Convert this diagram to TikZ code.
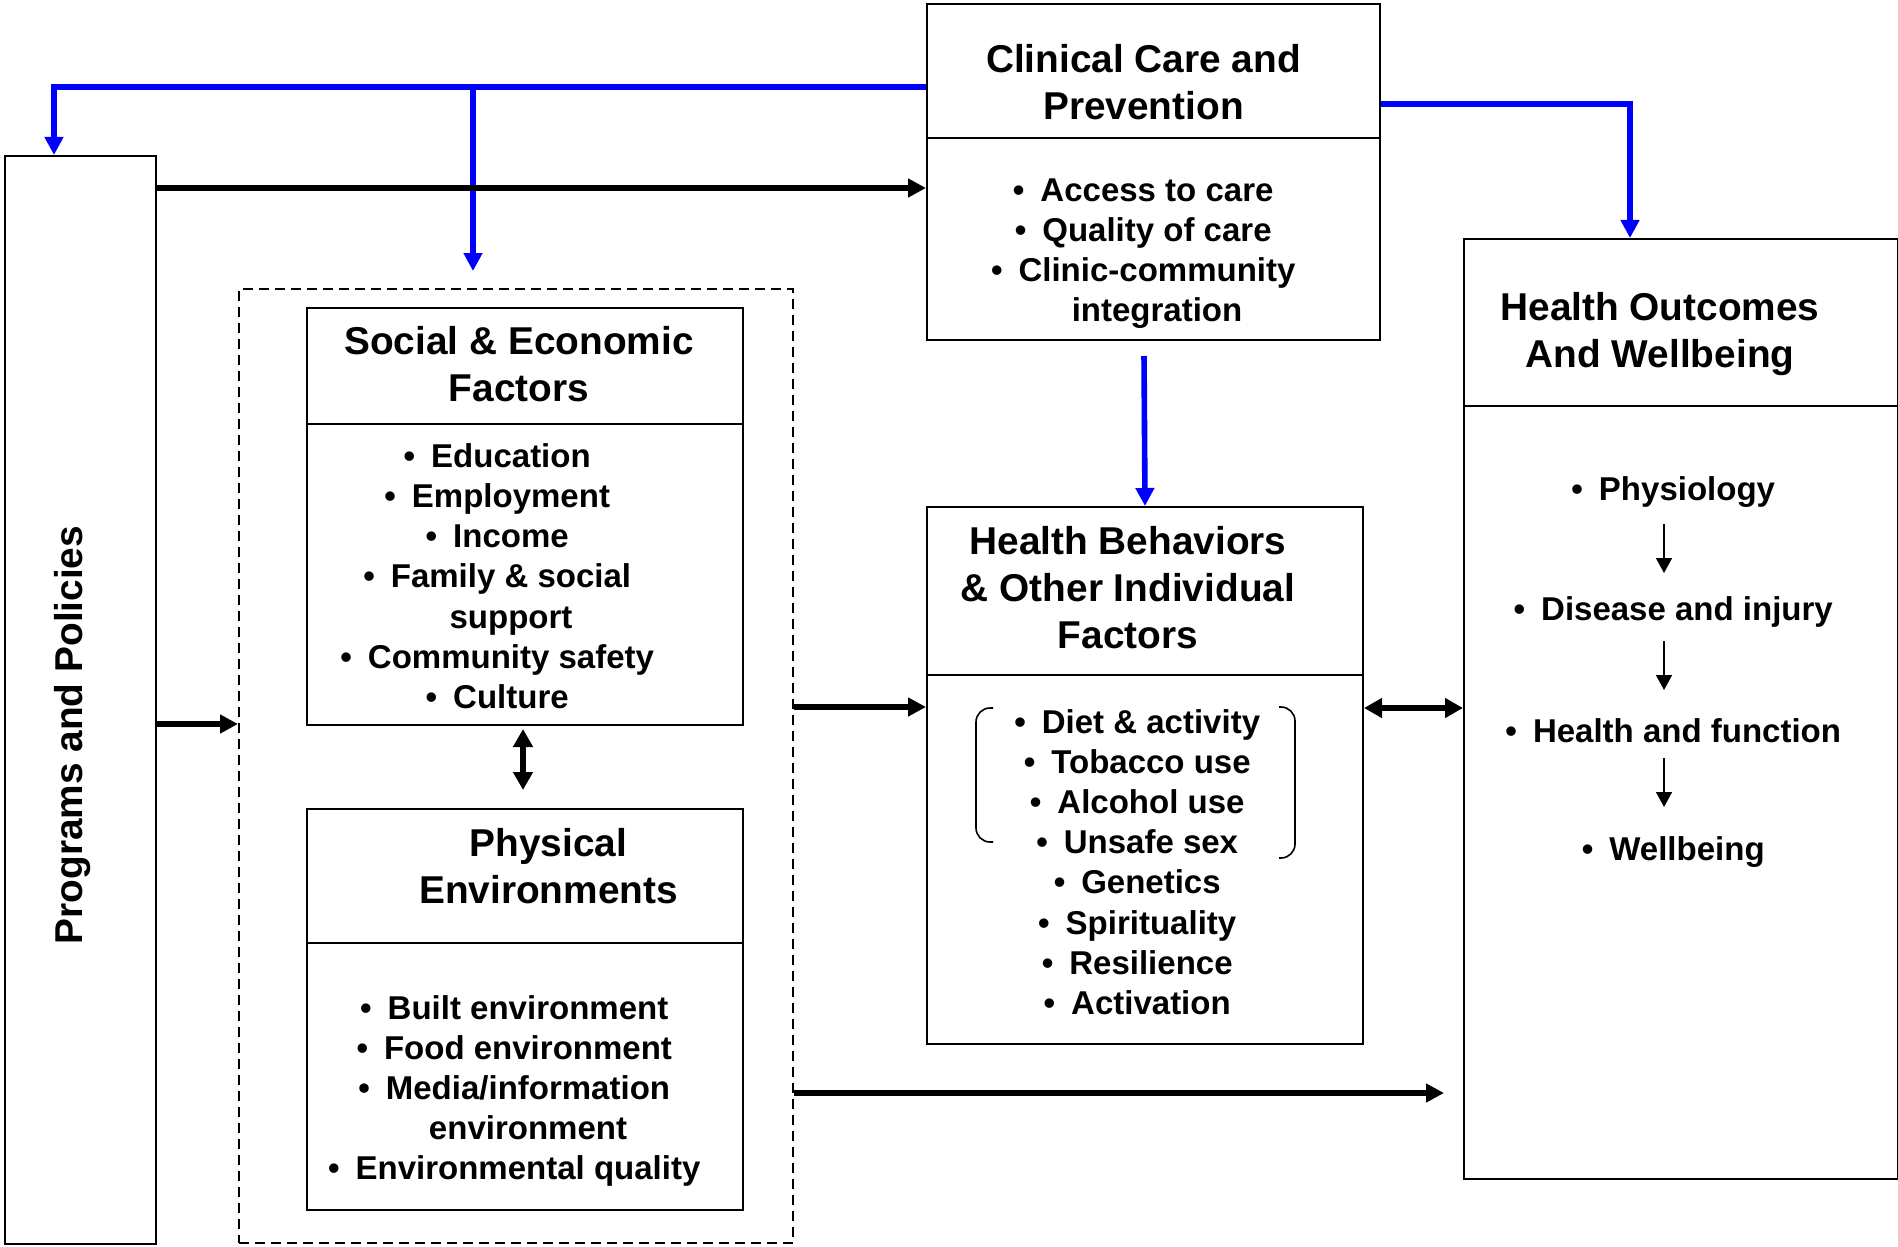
\documentclass[tikz,border=0pt]{standalone}
\usepackage{fontspec}
\setmainfont{Liberation Sans}
\usetikzlibrary{arrows.meta}
\newcommand\itemdot{\llap{\textbullet\hspace{8pt}}}
\begin{document}
\begin{tikzpicture}[x=0.5pt,y=-0.5pt,
  box/.style={draw, line width=1pt, inner sep=0pt, anchor=north west},
  divider/.style={line width=1.4pt},
  ttl/.style={font=\bfseries\fontsize{19.4}{23.5}\selectfont, align=center, inner sep=0pt},
  body/.style={font=\bfseries\fontsize{16.5}{20.1}\selectfont, align=center, inner sep=0pt},
  bluearr/.style={draw=blue, line width=2.8pt, -{Triangle[length=9pt,width=9pt]}},
  blkarr/.style={line width=2.7pt, -{Triangle[length=9pt,width=9pt]}},
  dblarr/.style={line width=2.8pt, {Triangle[length=9pt,width=9.5pt]}-{Triangle[length=9pt,width=9.5pt]}},
  smallarr/.style={line width=0.8pt, -{Triangle[length=7.5pt,width=8pt]}},
  brk/.style={line width=0.8pt, rounded corners=7pt},
]
\useasboundingbox (0,0) rectangle (1898,1246);

% boxes
\node[box, dash pattern=on 5pt off 3pt, line width=0.9pt, minimum width=277pt, minimum height=477pt] (dash) at (238,288) {};
\node[box, minimum width=75.5pt, minimum height=544pt] (prog) at (4,155) {};
\node[box, minimum width=218pt, minimum height=208.5pt] (soc) at (306,307) {};
\node[box, minimum width=218pt, minimum height=200.5pt] (phys) at (306,808) {};
\node[box, minimum width=226.5pt, minimum height=168pt] (clin) at (926,3) {};
\node[box, minimum width=218pt, minimum height=268.5pt] (hb) at (926,506) {};
\node[box, minimum width=217pt, minimum height=470pt] (ho) at (1463,238) {};

% dividers
\draw[divider] (clin.west |- 0,138) -- (clin.east |- 0,138);
\draw[divider] (soc.west |- 0,424) -- (soc.east |- 0,424);
\draw[divider] (phys.west |- 0,943) -- (phys.east |- 0,943);
\draw[divider] (hb.west |- 0,675) -- (hb.east |- 0,675);
\draw[divider] (ho.west |- 0,406) -- (ho.east |- 0,406);

% texts
\node[ttl, rotate=90] (progt) at (73,735) {Programs and Policies};
\node[ttl] (clint) at (1143.5,82.5) {Clinical Care and\\Prevention};
\node[body] (clinb) at (1157,253.5) {\itemdot Access to care\\\itemdot Quality of care\\\itemdot Clinic-community\\integration};
\node[ttl] (soct) at (519,364.5) {Social \& Economic\\Factors};
\node[body] (socb) at (511,576) {\itemdot Education\\\itemdot Employment\\\itemdot Income\\\itemdot Family \& social\\support\\\itemdot Community safety\\\itemdot Culture};
\node[ttl] (physt) at (548.5,866.5) {Physical\\Environments};
\node[body] (physb) at (528,1091) {\itemdot Built environment\\\itemdot Food environment\\\itemdot Media/information\\environment\\\itemdot Environmental quality};
\node[ttl] (hbt) at (1128,588) {Health Behaviors\\\& Other Individual\\Factors};
\node[body] (hbb) at (1151,862) {\itemdot Diet \& activity\\\itemdot Tobacco use\\\itemdot Alcohol use\\\itemdot Unsafe sex\\\itemdot Genetics\\\itemdot Spirituality\\\itemdot Resilience\\\itemdot Activation};
\node[ttl] (hot) at (1660,334.5) {Health Outcomes\\And Wellbeing};
\node[body] (ho1) at (1687,492) {\itemdot Physiology};
\node[body] (ho2) at (1687,612) {\itemdot Disease and injury};
\node[body] (ho3) at (1687,730.5) {\itemdot Health and function};
\node[body] (ho4) at (1687,852.5) {\itemdot Wellbeing};

% brackets
\draw[brk] (993,708) -- (976,708) -- (976,842) -- (993,842);
\draw[brk] (1279,707) -- (1295,707) -- (1295,858) -- (1279,858);

% coordinates
\coordinate (bl) at (54,87);
\coordinate (br) at (473,87);
\coordinate (brend) at (473,271);
\coordinate (b3) at (1630,104);
\coordinate (b4s) at (1144,356);
\coordinate (a1s) at (1664,524); \coordinate (a1e) at (1664,573);
\coordinate (a2s) at (1664,641); \coordinate (a2e) at (1664,690);
\coordinate (a3s) at (1664,758); \coordinate (a3e) at (1664,807);

% blue connectors
\draw[bluearr] (clin.west |- bl) -| (prog.north -| bl);
\draw[bluearr] (br) -- (brend);
\draw[bluearr] (clin.east |- b3) -| (ho.north -| b3);
\draw[bluearr] (b4s) -- (hb.north);

% black connectors
\draw[blkarr] (prog.east |- 0,188) -- (clin.west |- 0,188);
\draw[blkarr] (prog.east |- 0,724) -- (dash.west |- 0,724);
\draw[blkarr] (dash.east |- 0,707) -- (hb.west |- 0,707);
\draw[dblarr] (hb.east |- 0,708) -- (ho.west |- 0,708);
\draw[blkarr, shorten >=9.5pt] (dash.east |- 0,1093) -- (ho.west |- 0,1093);
\draw[dblarr, shorten <=1.5pt, shorten >=9pt] (soc.south -| 523,0) -- (phys.north -| 523,0);

% small arrows
\draw[smallarr] (a1s) -- (a1e);
\draw[smallarr] (a2s) -- (a2e);
\draw[smallarr] (a3s) -- (a3e);
\end{tikzpicture}
\end{document}
